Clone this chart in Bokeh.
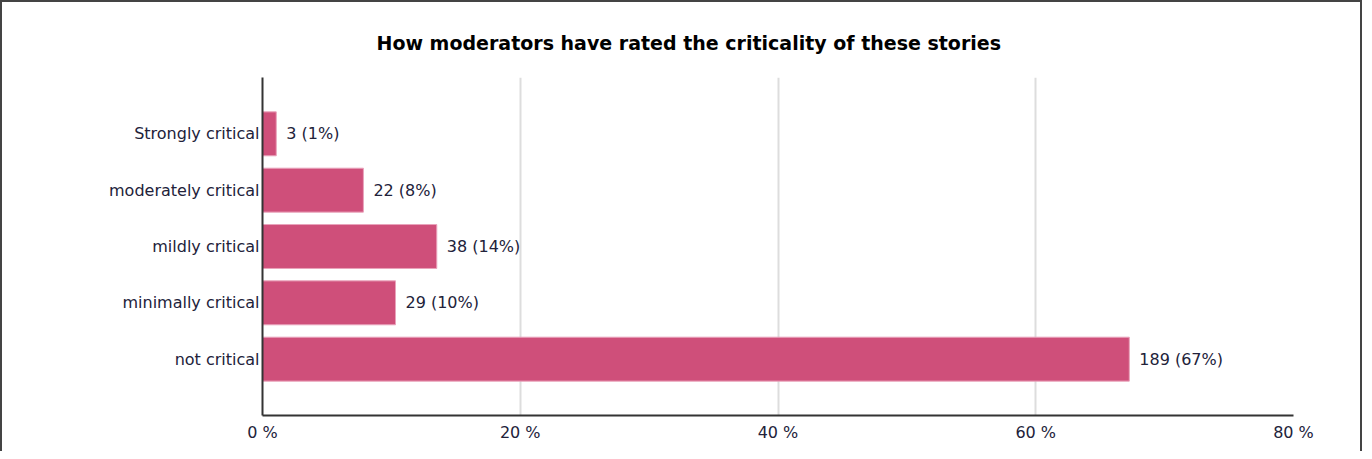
from bokeh.plotting import figure
from bokeh.models import ColumnDataSource, FactorRange, Range1d, PrintfTickFormatter, FixedTicker
from bokeh.core.properties import value
from bokeh.embed import file_html
from bokeh.resources import INLINE

categories = ["Strongly critical", "moderately critical", "mildly critical", "minimally critical", "not critical"]
counts = [3, 22, 38, 29, 189]
x_ticks = [0, 20, 40, 60, 80]
title_text = "How moderators have rated the criticality of these stories"

total = sum(counts)
pcts = [c / total * 100 for c in counts]
labels = [f"{c} ({round(p)}%)" for c, p in zip(counts, pcts)]

src = ColumnDataSource(dict(cat=categories, pct=pcts, lab=labels))

FONT = "DejaVu Sans"
TXT = "#22223a"
p = figure(width=1362, height=451, output_backend="svg", toolbar_location=None,
           y_range=FactorRange(factors=list(reversed(categories)), range_padding=0.2),
           x_range=Range1d(0, 80),
           min_border_left=260, min_border_right=71, min_border_top=75, min_border_bottom=38)
p.styles = {"border-top": "2px solid #444", "border-left": "2px solid #444", "border-right": "2px solid #444"}
p.outline_line_color = None

p.title.text = title_text
p.title.text_font = FONT
p.title.text_font_size = "19px"
p.title.text_font_style = "bold"
p.title.text_color = "#000000"
p.title.align = "left"
p.title.offset = 114
p.title.standoff = 47

p.hbar(y="cat", right="pct", left=0, height=0.78, source=src,
       fill_color="#cf4f7a", line_color="#e9a3bb", line_width=1)
p.text(x="pct", y="cat", text="lab", source=src, x_offset=10,
       text_font=value(FONT), text_font_size="16px", text_color=TXT,
       text_baseline="middle", text_align="left")

p.xaxis.ticker = FixedTicker(ticks=x_ticks)
p.xaxis.formatter = PrintfTickFormatter(format="%d %%")
for ax in (p.xaxis[0], p.yaxis[0]):
    ax.axis_line_color = "#333333"
    ax.axis_line_width = 2
    ax.major_tick_line_color = None
    ax.minor_tick_line_color = None
    ax.major_tick_out = 0
    ax.major_tick_in = 0
    ax.major_label_text_font = FONT
    ax.major_label_text_font_size = "16px"
    ax.major_label_text_color = TXT
p.yaxis.major_label_standoff = 3
p.xaxis.major_label_standoff = 7

p.ygrid.grid_line_color = None
p.xgrid.ticker = FixedTicker(ticks=[20, 40, 60, 80])
p.xgrid.grid_line_color = "#dddddd"
p.xgrid.grid_line_width = 2

open("out.html", "w").write(file_html(p, INLINE))
